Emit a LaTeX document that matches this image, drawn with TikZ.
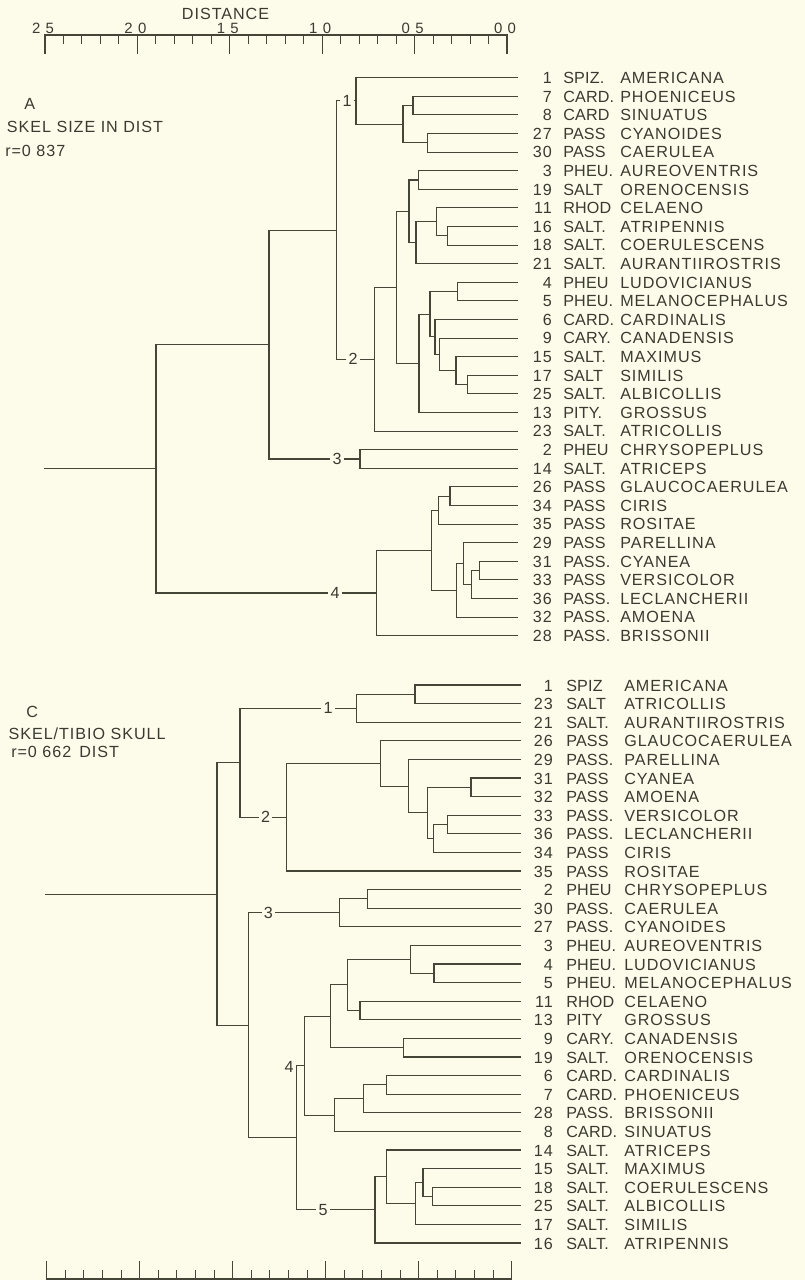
\documentclass[tikz,border=0pt]{standalone}
\usepackage{fontspec}
\setmainfont{Liberation Sans}[LetterSpace=6]
\newfontfamily\genfont{Liberation Sans}[LetterSpace=1]
\usetikzlibrary{calc}
\definecolor{bg}{RGB}{253,252,234}
\definecolor{ink}{RGB}{70,70,56}
\definecolor{tx}{RGB}{58,58,48}
\tikzset{
  bline/.style={draw=ink,line width=0.8pt,line cap=rect},
  lbl/.style={font=\fontsize{12.1}{13}\selectfont,text=tx,inner sep=0pt},
  num/.style={lbl,anchor=base east},
  gen/.style={lbl,anchor=base west},
  genus/.style={lbl,font=\genfont\fontsize{12.1}{13}\selectfont,anchor=base west},
  scl/.style={lbl,font=\fontsize{11.2}{12}\selectfont,anchor=base},
  blab/.style={lbl,fill=bg,inner xsep=1.6pt,inner ysep=1pt,anchor=center},
}
\newcommand\jn[4]{%
  \path let \p1=($(#3)!0.5!(#4)$) in ({#2*0.75pt},\y1) coordinate (#1);
  \draw[bline] (#3) -| (#1) |- (#4);}
\newcommand\brlab[3]{%
  \path let \p1=(#2) in ({#1*0.75pt},\y1) node[blab] {#3};}
\begin{document}
\begin{tikzpicture}[x=0.75pt,y=-0.75pt]
\fill[bg] (0,0) rectangle (805,1280);
\useasboundingbox (0,0) rectangle (805,1280);

% ---------- top scale
\node[lbl,anchor=base west] (dist) at (181.7,19.6) {DISTANCE};
\draw[bline] (45,35) -- (507,35);
\foreach \k in {0,...,25}{
  \pgfmathsetmacro\xx{45+18.48*\k}
  \pgfmathtruncatemacro\mm{mod(\k,5)}
  \ifnum\mm=0 \draw[bline] (\xx,35) -- (\xx,53.5);
  \else \draw[bline] (\xx,35) -- (\xx,43.5); \fi
}
\foreach \t [count=\m from 0] in {2\hspace{4pt}5,2\hspace{4pt}0,1\hspace{4pt}5,1\hspace{4pt}0,0\hspace{4pt}5,0\hspace{4pt}0}{
  \node[scl] (sc\m) at ({43+92.4*\m},33.6) {\t};
}

% ---------- bottom scale
\draw[bline] (46.7,1279) -- (511.7,1279);
\foreach \k in {0,...,25}{
  \pgfmathsetmacro\xx{46.7+18.6*\k}
  \pgfmathtruncatemacro\mm{mod(\k,5)}
  \ifnum\mm=0 \draw[bline] (\xx,1279) -- (\xx,1261.5);
  \else \draw[bline] (\xx,1279) -- (\xx,1271); \fi
}

% ---------- panel A labels
\node[lbl,anchor=base west] (pA) at (24,110) {A};
\node[lbl,anchor=base west] (pA2) at (6.7,132.3) {SKEL SIZE IN DIST};
\node[lbl,anchor=base west] (pA3) at (5,156.5) {r=0 837};

% ---------- panel C labels
\node[lbl,anchor=base west] (pC) at (26,717.3) {C};
\node[lbl,anchor=base west] (pC2) at (8.3,739) {SKEL/TIBIO SKULL};
\node[lbl,anchor=base west] (pC3) at (11,757.3) {r=0 662\hspace{6pt}DIST};

% ---------- upper leaves
\foreach \n/\g/\s [count=\i from 0] in {
1/SPIZ./AMERICANA,7/CARD./PHOENICEUS,8/CARD/SINUATUS,27/PASS/CYANOIDES,30/PASS/CAERULEA,
3/PHEU./AUREOVENTRIS,19/SALT/ORENOCENSIS,11/RHOD/CELAENO,16/SALT./ATRIPENNIS,18/SALT./COERULESCENS,
21/SALT./AURANTIIROSTRIS,4/PHEU/LUDOVICIANUS,5/PHEU./MELANOCEPHALUS,6/CARD./CARDINALIS,9/CARY./CANADENSIS,
15/SALT./MAXIMUS,17/SALT/SIMILIS,25/SALT./ALBICOLLIS,13/PITY./GROSSUS,23/SALT./ATRICOLLIS,
2/PHEU/CHRYSOPEPLUS,14/SALT./ATRICEPS,26/PASS/GLAUCOCAERULEA,34/PASS/CIRIS,35/PASS/ROSITAE,
29/PASS/PARELLINA,31/PASS./CYANEA,33/PASS/VERSICOLOR,36/PASS./LECLANCHERII,32/PASS./AMOENA,28/PASS./BRISSONII}{
  \coordinate (u\i) at (517,{77.7+18.6*\i});
  \node[num] (un\i) at (552,{83.5+18.6*\i}) {\n};
  \node[genus] (ug\i) at (563,{83.5+18.6*\i}) {\g};
  \node[gen] (us\i) at (620,{83.5+18.6*\i}) {\s};
}

% ---------- lower leaves
\foreach \n/\g/\s [count=\i from 0] in {
1/SPIZ/AMERICANA,23/SALT/ATRICOLLIS,21/SALT./AURANTIIROSTRIS,26/PASS/GLAUCOCAERULEA,29/PASS./PARELLINA,
31/PASS/CYANEA,32/PASS/AMOENA,33/PASS./VERSICOLOR,36/PASS./LECLANCHERII,34/PASS/CIRIS,
35/PASS/ROSITAE,2/PHEU/CHRYSOPEPLUS,30/PASS./CAERULEA,27/PASS./CYANOIDES,3/PHEU./AUREOVENTRIS,
4/PHEU./LUDOVICIANUS,5/PHEU./MELANOCEPHALUS,11/RHOD/CELAENO,13/PITY/GROSSUS,9/CARY./CANADENSIS,
19/SALT./ORENOCENSIS,6/CARD./CARDINALIS,7/CARD./PHOENICEUS,28/PASS./BRISSONII,8/CARD./SINUATUS,
14/SALT./ATRICEPS,15/SALT./MAXIMUS,18/SALT./COERULESCENS,25/SALT./ALBICOLLIS,17/SALT./SIMILIS,
16/SALT./ATRIPENNIS}{
  \coordinate (l\i) at (520,{685+18.6*\i});
  \node[num] (ln\i) at (553,{691+18.6*\i}) {\n};
  \node[genus] (lg\i) at (566,{691+18.6*\i}) {\g};
  \node[gen] (ls\i) at (624,{691+18.6*\i}) {\s};
}

% ---------- upper dendrogram
\jn{a1}{413}{u1}{u2}
\jn{a2}{427.7}{u3}{u4}
\jn{a3}{403}{a1}{a2}
\jn{c1}{356}{u0}{a3}
\jn{b1}{418.3}{u5}{u6}
\jn{b2}{447.7}{u8}{u9}
\jn{b3}{436.7}{u7}{b2}
\jn{b4}{416}{b3}{u10}
\jn{b5}{409}{b1}{b4}
\jn{b6}{457.7}{u11}{u12}
\jn{b7}{467.3}{u16}{u17}
\jn{b8}{456}{u15}{b7}
\jn{b9}{439.3}{u14}{b8}
\jn{b10}{435}{u13}{b9}
\jn{b11}{430}{b6}{b10}
\jn{b12}{419}{b11}{u18}
\jn{b13}{396.7}{b5}{b12}
\jn{c2}{374.3}{b13}{u19}
\jn{c3}{360}{u20}{u21}
\jn{d1}{450}{u22}{u23}
\jn{d2}{438.3}{d1}{u24}
\jn{d3}{479.3}{u26}{u27}
\jn{d4}{471.7}{d3}{u28}
\jn{d5}{463.3}{u25}{d4}
\jn{d6}{456.7}{d5}{u29}
\jn{d7}{431.7}{d2}{d6}
\jn{c4}{376.7}{d7}{u30}
\jn{e1}{336.7}{c1}{c2}
\jn{e2}{269}{e1}{c3}
\jn{e3}{156}{e2}{c4}
\path let \p1=(e3) in ({45*0.75pt},\y1) coordinate (us);
\draw[bline] (us) -- (e3);
\brlab{347}{c1}{1}
\brlab{353}{c2}{2}
\brlab{337}{c3}{3}
\brlab{335}{c4}{4}

% ---------- lower dendrogram
\jn{f1}{415}{l0}{l1}
\jn{k1}{356.7}{f1}{l2}
\jn{g1}{471}{l5}{l6}
\jn{g2}{447.7}{l7}{l8}
\jn{g3}{433.3}{g2}{l9}
\jn{g4}{427.7}{g1}{g3}
\jn{g5}{408.3}{l4}{g4}
\jn{g6}{380.7}{l3}{g5}
\jn{k2}{286.7}{g6}{l10}
\jn{h1}{367.3}{l11}{l12}
\jn{k3}{339.3}{h1}{l13}
\jn{i1}{434}{l15}{l16}
\jn{i2}{410.7}{l14}{i1}
\jn{i3}{360}{l17}{l18}
\jn{i4}{347.7}{i2}{i3}
\jn{i5}{403.3}{l19}{l20}
\jn{i6}{330.7}{i4}{i5}
\jn{j1}{386.5}{l21}{l22}
\jn{j2}{363.5}{j1}{l23}
\jn{j3}{334.6}{j2}{l24}
\jn{k4}{304.3}{i6}{j3}
\jn{m1}{432.7}{l27}{l28}
\jn{m2}{423}{l26}{m1}
\jn{m3}{415.4}{m2}{l29}
\jn{m4}{386.5}{l25}{m3}
\jn{k5}{375}{m4}{l30}
\jn{n4}{296.5}{k4}{k5}
\jn{o1}{240}{k1}{k2}
\jn{o2}{248.3}{k3}{n4}
\jn{o3}{217}{o1}{o2}
\path let \p1=(o3) in ({45.7*0.75pt},\y1) coordinate (ls);
\draw[bline] (ls) -- (o3);
\brlab{328}{k1}{1}
\brlab{265.7}{k2}{2}
\brlab{268.3}{k3}{3}
\brlab{323}{k5}{5}
\path let \p1=(n4), \p2=(k4) in ({\x1-5.6pt},{\y2-1.1pt}) node[lbl,anchor=center] (lab4) {4};
\end{tikzpicture}
\end{document}
